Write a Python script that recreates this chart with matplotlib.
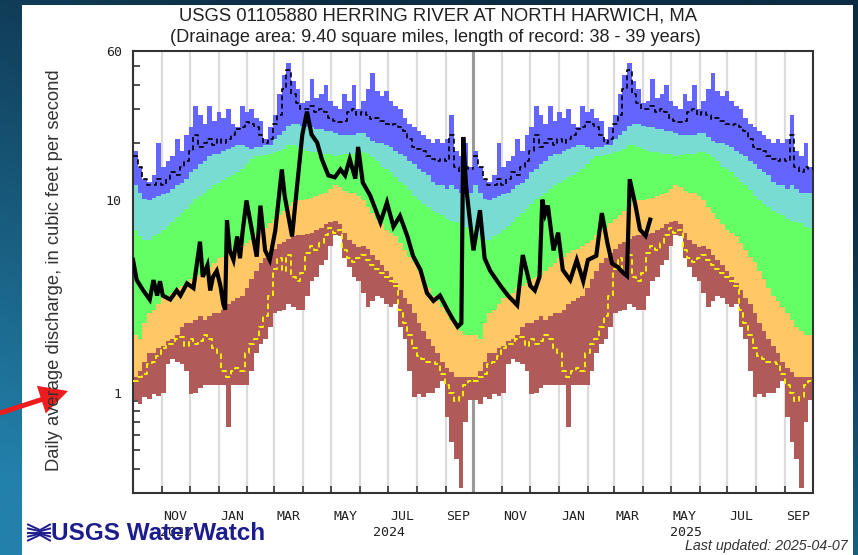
import numpy as np
import matplotlib.pyplot as plt
import matplotlib.dates as mdates
from matplotlib.patches import Rectangle, FancyArrow
from matplotlib.ticker import FixedLocator, NullFormatter

# ---- data --------------------------------------------------------------
# daily-statistics bands, sampled every 5 days from Oct 1 (same for both water years)
day = [0, 5, 10, 15, 20, 25, 30, 35, 40, 45,
       50, 55, 60, 65, 70, 75, 80, 85, 90, 95,
       100, 105, 110, 115, 120, 125, 130, 135, 140, 145,
       150, 155, 160, 165, 170, 175, 180, 185, 190, 195,
       200, 205, 210, 215, 220, 225, 230, 235, 240, 245,
       250, 255, 260, 265, 270, 275, 280, 285, 290, 295,
       300, 305, 310, 315, 320, 325, 330, 335, 340, 345,
       350, 355, 360, 365]
band_max = [18, 15, 13, 12.5, 13.5, 20, 15, 16, 17, 21,
            18, 22, 24, 31, 28, 25, 31, 26, 29, 27,
            30, 25, 24, 31, 29, 30, 27, 26, 21, 24,
            28, 36, 45, 52, 42, 38, 32, 33, 43, 34,
            36, 40, 33, 31, 30, 36, 33, 40, 30, 33,
            38, 46, 37, 35, 37, 33, 31, 30, 27, 25,
            24, 23, 22, 21, 20, 21, 20, 21, 28, 18,
            17, 20, 15, 16]
dash_hi = [17, 15, 13, 12, 12, 13, 12, 13, 14, 13.5,
           15, 16, 18, 22, 19, 20, 21, 19.5, 21, 20,
           21, 22, 23.5, 24, 25.5, 25, 24, 22, 20, 21,
           25, 28, 38, 48, 36, 32, 30, 30, 31, 29,
           30, 29, 27, 26, 25.5, 26, 29, 30, 28, 29,
           28, 26.5, 27, 26, 25, 24.7, 25, 24, 23, 21,
           19, 18.5, 18, 17, 16.4, 16, 16.5, 16, 22, 15,
           14, 15, 14.5, 15]
p90 = [12, 11, 10.2, 10, 10.3, 10.5, 10.8, 11, 11.5, 12,
       12.3, 13, 14, 14.5, 15.5, 16, 17, 17.5, 17.5, 18,
       18.5, 19, 19.5, 19.5, 19, 18.5, 19, 19, 19.5, 19.5,
       21, 22, 23, 24.5, 25, 25, 24.5, 24, 24, 23.5,
       23.5, 23, 23, 22.5, 22, 22, 22, 22, 22.5, 22.5,
       21.5, 20.5, 20, 20, 19.5, 19, 18, 17.5, 17, 16,
       15.5, 14.5, 14, 13.5, 12.5, 12, 12, 11.5, 12, 11.5,
       11, 11, 11, 11.5]
p75 = [7.0, 6.5, 6.2, 6.2, 6.5, 6.7, 7.0, 7.4, 7.7, 8.2,
       8.6, 9.0, 9.6, 10.2, 10.6, 11.0, 11.5, 12.0, 12.3, 12.8,
       13.2, 13.5, 14.0, 14.5, 15.5, 16.5, 17.0, 17.0, 17.2, 17.5,
       17.8, 18.0, 18.5, 19.5, 19.5, 19.0, 18.5, 18.0, 17.8, 17.8,
       17.5, 17.5, 17.5, 17.0, 17.2, 17.5, 17.5, 17.5, 17.8, 17.8,
       17.5, 16.8, 16.0, 15.0, 14.5, 14.0, 13.2, 12.5, 12.0, 11.3,
       10.6, 10.1, 9.6, 9.2, 8.8, 8.6, 8.4, 8.0, 7.8, 7.7,
       7.6, 7.3, 7.2, 7.0]
p25 = [2.0, 1.9, 2.3, 2.6, 2.7, 2.9, 3.1, 3.2, 3.3, 3.5,
       3.6, 3.7, 3.9, 4.0, 4.1, 4.3, 4.5, 4.7, 5.0, 5.1,
       5.3, 5.5, 5.6, 5.8, 6.0, 6.2, 6.6, 7.0, 7.2, 7.6,
       8.0, 8.4, 8.8, 9.4, 9.8, 10.0, 10.1, 10.2, 10.3, 10.6,
       10.8, 11.0, 11.5, 12.0, 11.8, 11.2, 11.0, 11.0, 10.5, 10.0,
       9.2, 8.6, 8.0, 7.5, 7.0, 6.8, 6.5, 6.0, 5.5, 5.1,
       4.8, 4.3, 3.9, 3.5, 3.2, 3.0, 2.8, 2.6, 2.4, 2.2,
       2.1, 2.0, 2.0, 2.0]
p10 = [1.2, 1.3, 1.45, 1.6, 1.6, 1.7, 1.75, 1.85, 1.9, 2.0,
       2.2, 2.3, 2.3, 2.4, 2.5, 2.4, 2.5, 2.6, 2.6, 2.7,
       2.9, 3.0, 3.1, 3.2, 3.5, 3.9, 4.3, 4.7, 5.0, 5.3,
       5.6, 5.9, 6.1, 6.3, 6.5, 6.6, 6.6, 6.7, 6.8, 7.0,
       7.2, 7.5, 7.7, 7.8, 7.5, 6.8, 6.2, 5.9, 5.7, 5.8,
       5.6, 5.2, 4.9, 4.6, 4.3, 4.0, 3.7, 3.4, 3.1, 2.9,
       2.6, 2.3, 2.1, 1.9, 1.75, 1.6, 1.45, 1.35, 1.28, 1.2,
       1.2, 1.2, 1.2, 1.2]
dash_lo = [1.15, 1.2, 1.25, 1.4, 1.45, 1.55, 1.7, 1.8, 1.8, 1.9,
           1.95, 1.75, 1.9, 1.8, 1.85, 2.0, 1.9, 1.7, 1.6, 1.3,
           1.2, 1.3, 1.35, 1.3, 1.6, 1.8, 1.9, 2.2, 2.5, 3.2,
           4.4, 5.0, 4.3, 5.2, 4.0, 3.8, 4.2, 5.3, 5.8, 5.5,
           6.0, 6.6, 7.2, 6.8, 7.0, 5.5, 5.0, 4.8, 5.0, 5.2,
           4.9, 4.6, 4.4, 4.2, 4.0, 3.8, 3.6, 2.7, 2.3, 2.0,
           1.7, 1.55, 1.5, 1.45, 1.45, 1.4, 1.25, 1.1, 1.0, 0.9,
           0.95, 1.1, 1.15, 1.18]
band_min = [0.92, 0.87, 0.95, 0.93, 0.98, 0.96, 1.0, 1.4, 1.5, 1.45,
            1.4, 1.3, 0.98, 1.0, 1.05, 1.1, 1.1, 1.1, 1.1, 1.1,
            0.66, 1.1, 1.1, 1.1, 1.1, 1.3, 1.6, 1.8, 1.9, 2.2,
            2.6, 2.65, 2.7, 2.9, 2.8, 2.7, 2.7, 3.2, 3.8, 4.0,
            4.6, 4.9, 5.8, 6.6, 6.5, 5.0, 4.5, 4.0, 3.8, 3.3,
            2.8, 3.0, 3.2, 3.1, 2.9, 2.8, 2.9, 2.2, 1.9, 1.3,
            0.95, 0.98, 0.95, 1.0, 1.0, 1.05, 1.15, 0.75, 0.55, 0.45,
            0.32, 0.7, 0.92, 0.9]
year_starts = ['2023-10-01', '2024-10-01']

# observed daily flow, days after 2023-10-01
obs_day = [0, 4, 11, 18, 22, 26, 29, 32, 40, 47, 51, 58, 65, 72, 75, 80, 83, 86, 90, 94,
           97, 99, 101, 104, 108, 112, 115, 118, 122, 126, 133, 137, 142, 147, 153, 160,
           163, 171, 176, 182, 187, 192, 198, 203, 210, 217, 223, 228, 233, 239, 242, 247,
           255, 266, 273, 280, 287, 295, 301, 309, 316, 323, 330, 338, 344, 349, 353, 355,
           358, 362, 366, 373, 378, 384, 395, 403, 413, 419, 427, 432, 437, 440, 443, 446,
           452, 457, 462, 470, 477, 484, 489, 498, 504, 510, 515, 521, 527, 531, 534, 540,
           545, 551, 556]
obs_cfs = [4.9, 3.85, 3.4, 3.05, 3.85, 3.2, 3.8, 3.2, 3.05, 3.4, 3.2, 3.7, 3.5, 6.1, 4.0,
           4.6, 3.4, 4.0, 4.3, 3.6, 2.9, 2.7, 7.9, 5.5, 4.9, 6.5, 5.0, 7.0, 10.0, 7.8, 5.1,
           9.4, 5.5, 4.9, 7.0, 14.5, 10.6, 6.5, 11.4, 22, 29, 22, 20, 16.4, 13.5, 13.2, 14.5,
           13.5, 16.4, 13.0, 19.0, 12.4, 10.6, 7.7, 9.75, 7.3, 8.3, 6.5, 5.15, 4.35, 3.3, 3.0,
           3.2, 2.7, 2.4, 2.2, 2.3, 21.4, 12, 8, 5.5, 8.9, 5.0, 4.3, 3.6, 3.2, 2.85, 5.2, 3.6,
           3.4, 4.0, 10.1, 8.5, 9.4, 5.5, 6.8, 4.35, 3.85, 4.9, 3.8, 4.9, 5.15, 8.6, 6.0, 4.7,
           4.5, 4.2, 4.05, 12.9, 9.5, 7.05, 6.55, 7.95]

month_labels = ['NOV', 'JAN', 'MAR', 'MAY', 'JUL', 'SEP'] * 2
month_label_dates = ['2023-11-15', '2024-01-16', '2024-03-16', '2024-05-16', '2024-07-16',
                     '2024-09-15', '2024-11-15', '2025-01-16', '2025-03-16', '2025-05-16',
                     '2025-07-16', '2025-09-15']
year_labels = ['2023', '2024', '2025']
year_label_dates = ['2023-11-16', '2024-07-02', '2025-05-17']

W, H = 858, 555
fig = plt.figure(figsize=(W / 100, H / 100), dpi=100)

# blue gradient page background + white panel
bg = fig.add_axes([0, 0, 1, 1], zorder=-10)
bg.set_xlim(0, W)
bg.set_ylim(H, 0)
bg.axis('off')
yy, xx = np.mgrid[0:1:200j, 0:1:300j]
t = np.clip(0.95 * yy - 0.55 * xx + 0.2, 0, 1)
dark = np.array([12, 44, 68]) / 255
light = np.array([34, 128, 170]) / 255
bg.imshow(dark + (light - dark) * t[..., None], extent=(0, W, H, 0), aspect='auto')
bg.add_patch(Rectangle((22, 5), 831, 560, fc='white', ec='none'))
bg.add_patch(FancyArrow(0, 413, 68, -22, width=5, head_width=29, head_length=28,
                        length_includes_head=True, color='#ee1c1c', lw=0))
navy = '#1c1c8c'
for y0 in [524.5, 528.5, 532.5, 536.5, 540.5]:
    bg.plot([28, 40, 50], [y0, 532.5 + (y0 - 532.5) * 0.3, y0], color=navy, lw=1.4)

# chart
ax = fig.add_axes([133 / W, 1 - 493 / H, 680 / W, 442 / H])
ax.set_yscale('log')

cols = ['#6464ff', '#78dcd2', '#64ff64', '#ffc864', '#b05a5a']
for start in year_starts:
    d = np.datetime64(start) + np.array(day, dtype='timedelta64[D]')
    bands = [(p90, band_max), (p75, p90), (p25, p75), (p10, p25), (band_min, p10)]
    for (lo, hi), c in zip(bands, cols):
        ax.fill_between(d, lo, hi, step='post', color=c, lw=0, antialiased=False, zorder=2)
    ax.plot(d, dash_hi, color='black', lw=1.2, ls=(0, (3, 2)), drawstyle='steps-post', zorder=3)
    ax.plot(d, dash_lo, color='#ffff00', lw=1.3, ls=(0, (3, 2)), drawstyle='steps-post', zorder=3)

od = np.datetime64('2023-10-01') + np.array(obs_day, dtype='timedelta64[D]')
ax.plot(od, obs_cfs, color='black', lw=3, zorder=5, solid_joinstyle='miter')

ax.axvline(np.datetime64('2024-10-01'), color='#999999', lw=2.2, zorder=1)

ax.set_xlim(np.datetime64('2023-10-01'), np.datetime64('2025-10-01'))
ax.set_ylim(0.3, 60)

mono = 'DejaVu Sans Mono'
ax.xaxis.set_minor_locator(mdates.MonthLocator())
ax.xaxis.set_minor_formatter(NullFormatter())
ax.set_xticks(mdates.date2num(np.array(month_label_dates, dtype='datetime64[D]')))
ax.set_xticklabels(month_labels, family=mono, fontsize=9.5, color='#222222')
ax.tick_params(axis='x', which='major', length=0, pad=12)
ax.tick_params(axis='x', which='minor', direction='in', length=5, width=1.2, color='#333333')
ax.grid(which='minor', axis='x', color='#dcdcdc', lw=1.6)
ax.set_axisbelow(True)

ax.set_yticks([1, 10, 60])
ax.set_yticklabels(['1', '10', '60'], family=mono, fontsize=9.5, color='#222222')
ax.yaxis.set_minor_locator(FixedLocator([0.3, 0.4, 0.5, 0.6, 0.7, 0.8, 0.9, 2, 3, 4, 5, 6, 7,
                                         8, 9, 20, 30, 40, 50]))
ax.yaxis.set_minor_formatter(NullFormatter())
ax.tick_params(axis='y', which='both', direction='in', length=5, width=1.2, color='#333333', pad=8)

for s in ax.spines.values():
    s.set_color('#333333')
    s.set_linewidth(1.5)

for lab, dt in zip(year_labels, year_label_dates):
    ax.text(mdates.date2num(np.datetime64(dt)), -0.09, lab, transform=ax.get_xaxis_transform(),
            ha='center', va='center', family=mono, fontsize=9.5, color='#222222')

sans = 'Liberation Sans'
fig.text(438 / W, 1 - 16 / H, 'USGS 01105880 HERRING RIVER AT NORTH HARWICH, MA',
         ha='center', va='center', family=sans, fontsize=13.3, color='#222222')
fig.text(435 / W, 1 - 37 / H,
         '(Drainage area: 9.40 square miles, length of record: 38 - 39 years)',
         ha='center', va='center', family=sans, fontsize=13.1, color='#222222')
fig.text(55 / W, 1 - 270 / H, 'Daily average discharge, in cubic feet per second',
         rotation=90, ha='center', va='center', family=sans, fontsize=13.2, color='#333333')
fig.text(51 / W, 1 - 533 / H, 'USGS WaterWatch', ha='left', va='center', family=sans,
         fontsize=17.5, fontweight='bold', color=navy)
fig.text(848 / W, 1 - 546 / H, 'Last updated: 2025-04-07', ha='right', va='center',
         family=sans, fontsize=10.3, style='italic', color='#333333')

fig.savefig('out.png', dpi=100)
